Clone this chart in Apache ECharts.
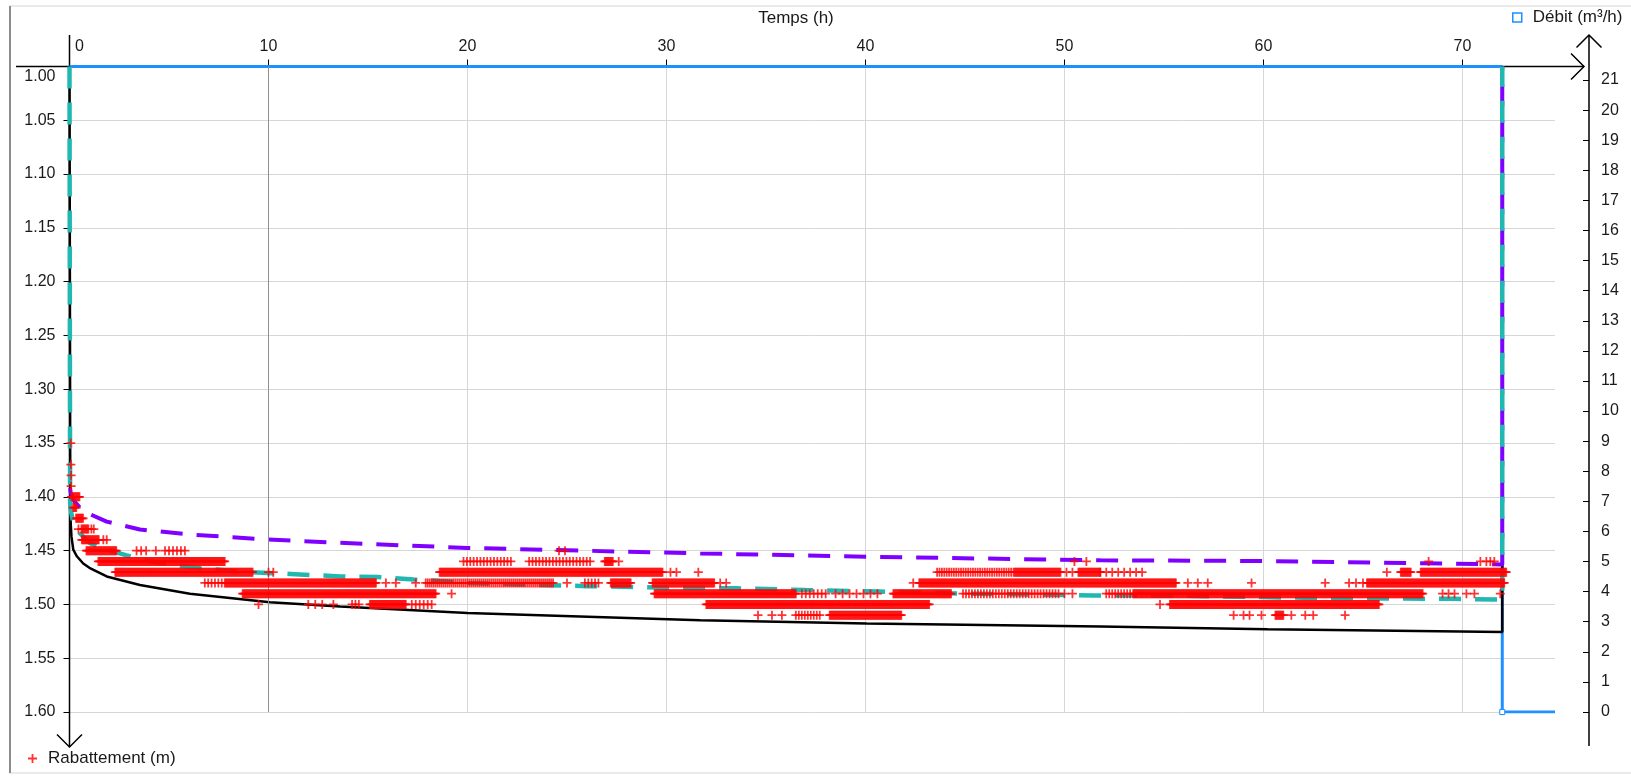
<!DOCTYPE html>
<html>
<head>
<meta charset="utf-8">
<title>Rabattement</title>
<script src="https://cdn.jsdelivr.net/npm/echarts@6/dist/echarts.min.js"></script>
<style>
html, body { margin: 0; padding: 0; background: #fff; }
#showChart { width: 1631px; height: 776px; }
</style>
</head>
<body>
<div id="showChart"></div>
<script>
// ticks
var xTicks = [0, 10, 20, 30, 40, 50, 60, 70];
var yLeftTicks = [1.00, 1.05, 1.10, 1.15, 1.20, 1.25, 1.30, 1.35, 1.40, 1.45, 1.50, 1.55, 1.60];
var yRightTicks = [0, 1, 2, 3, 4, 5, 6, 7, 8, 9, 10, 11, 12, 13, 14, 15, 16, 17, 18, 19, 20, 21];
var darkGridT = 10;

// debit (m3/h)
var debitT = [0, 72, 72, 74.65];
var debitQ = [21.45, 21.45, 0, 0];
var debitMarked = [false, false, true, false];

// black curve
var theoT = [0, 0.04, 0.06, 0.1, 0.19, 0.36, 0.69, 1.0, 1.87, 3.54, 6.05, 10.07, 13.6, 20, 31.7, 40.06, 51.8, 60.2, 72, 72];
var theoS = [1.00, 1.40, 1.4245, 1.437, 1.449, 1.455, 1.462, 1.466, 1.474, 1.482, 1.490, 1.498, 1.502, 1.508, 1.5148, 1.5177, 1.5205, 1.523, 1.5257, 1.00];

// purple dashed
var violetT = [0.03, 0.06, 0.19, 0.69, 1.87, 3.54, 6.05, 9.9, 13.3, 20, 31.7, 40.06, 51.8, 60.2, 72, 72];
var violetS = [1.392, 1.396, 1.403, 1.4134, 1.423, 1.4304, 1.435, 1.4396, 1.4425, 1.4475, 1.4526, 1.4557, 1.459, 1.4597, 1.4628, 1.00];

// cyan dashed
var cyanT = [0, 0.03, 0.06, 0.19, 0.53, 1.03, 1.87, 2.87, 4.38, 6.56, 8.57, 11.1, 13.6, 15.5, 17.3, 20, 22.6, 26, 30, 33.5, 37, 40.7, 45, 51.5, 56, 62, 66, 69.5, 72, 72];
var cyanS = [1.00, 1.405, 1.412, 1.4245, 1.434, 1.443, 1.449, 1.4545, 1.461, 1.4664, 1.4695, 1.4717, 1.474, 1.4746, 1.4768, 1.480, 1.4814, 1.483, 1.4845, 1.485, 1.4867, 1.488, 1.490, 1.4916, 1.492, 1.4938, 1.4944, 1.4948, 1.4955, 1.00];

// measured drawdown: runs [t0, t1, step] of dense marks + single marks, per level
var sampleStep = 0.05;
var rab135Pts = [0.06];
var rab137Pts = [0.07];
var rab138Pts = [0.08];
var rab139Pts = [0.08];
var rab140Runs = [[0.10, 0.53]];
var rab141Runs = [[0.19, 0.38]];
var rab142Runs = [[0.33, 0.72]];
var rab143Runs = [[0.6, 0.95]];
var rab143Pts = [0.45, 1.1, 1.22];
var rab144Runs = [[0.62, 1.5]];
var rab144Pts = [1.7, 1.87];
var rab145Runs = [[0.85, 2.37], [4.8, 5.96, 0.2]];
var rab145Pts = [3.37, 3.6, 3.85, 4.34, 24.6, 24.9];
var rab146Runs = [[1.45, 7.8], [19.8, 22.3, 0.17], [23.1, 26.3, 0.17], [26.9, 27.3]];
var rab146Pts = [27.6, 50.5, 51.1, 68.3, 70.9, 71.2, 71.4, 71.6];
var rab147Runs = [[2.3, 9.2], [18.6, 29.8], [43.6, 47.5, 0.12], [47.5, 49.8], [50.7, 51.8], [51.8, 54.1, 0.3], [66.9, 67.4], [67.9, 72.2]];
var rab147Pts = [10.0, 10.24, 30.2, 30.5, 31.6, 50.1, 50.4, 66.2];
var rab148Runs = [[6.8, 7.8, 0.17], [7.8, 15.4], [17.9, 24.3, 0.1], [25.9, 26.7, 0.17], [27.2, 28.2], [29.3, 32.4], [42.7, 55.6], [65.2, 72.1]];
var rab148Pts = [15.9, 16.4, 17.4, 25.0, 32.7, 33.0, 42.4, 56.2, 56.7, 57.2, 59.4, 63.1, 64.3, 64.65, 65.0];
var rab149Runs = [[8.7, 18.4], [29.4, 36.5], [36.8, 38.0, 0.2], [38.5, 40.6, 0.35], [41.4, 44.3], [44.9, 49.7, 0.15], [52.1, 53.5, 0.15], [53.5, 68.0]];
var rab149Pts = [19.2, 50.0, 50.4, 69.0, 69.3, 69.6, 70.2, 70.6, 71.9];
var rab150Runs = [[14.2, 14.7, 0.17], [15.1, 16.9], [17.2, 18.2, 0.2], [32.0, 43.2], [55.3, 65.8]];
var rab150Pts = [9.5, 12.0, 12.35, 12.7, 13.26, 54.8];
var rab151Runs = [[36.5, 37.7, 0.15], [38.2, 41.8], [60.6, 61.0]];
var rab151Pts = [34.6, 35.3, 35.8, 58.5, 59.0, 59.3, 59.9, 61.4, 62.1, 62.5, 64.1];

var rabRows = [
    [1.35, [], rab135Pts], [1.37, [], rab137Pts], [1.38, [], rab138Pts], [1.39, [], rab139Pts],
    [1.40, rab140Runs, []], [1.41, rab141Runs, []], [1.42, rab142Runs, []],
    [1.43, rab143Runs, rab143Pts], [1.44, rab144Runs, rab144Pts], [1.45, rab145Runs, rab145Pts],
    [1.46, rab146Runs, rab146Pts], [1.47, rab147Runs, rab147Pts], [1.48, rab148Runs, rab148Pts],
    [1.49, rab149Runs, rab149Pts], [1.50, rab150Runs, rab150Pts], [1.51, rab151Runs, rab151Pts]
];

function zip(a, b) {
    var out = [];
    for (var i = 0; i < a.length; i++) out.push([a[i], b[i]]);
    return out;
}

function rabData() {
    var out = [];
    rabRows.forEach(function (row) {
        var lvl = row[0];
        row[1].forEach(function (r) {
            var st = r[2] || sampleStep;
            for (var t = r[0]; t <= r[1] + 1e-9; t += st) out.push([t, lvl]);
        });
        row[2].forEach(function (t) { out.push([t, lvl]); });
    });
    return out;
}

var plusPath = 'path://M4,0H6V4H10V6H6V10H4V6H0V4H4Z';
var txt = '#1a1a1a';
var gridCol = '#d6d6d6';
var font = '"Liberation Sans", Arial, sans-serif';

function showChart() {
    var dom = document.getElementById('showChart');
    var myChart = echarts.init(dom);

    var debitData = debitT.map(function (t, i) {
        return { value: [t, debitQ[i]], symbol: debitMarked[i] ? 'rect' : 'none' };
    });

    var option = {
        animation: false,
        textStyle: { fontFamily: font },
        grid: { left: 69.5, top: 66.5, right: 76, bottom: 64 },
        legend: [{
            data: [{ name: 'Débit (m³/h)', icon: 'rect', itemStyle: { color: '#fff', borderColor: '#1e90ff', borderWidth: 1.5 } }],
            left: 1512, top: 9, padding: 0,
            itemWidth: 9, itemHeight: 9,
            selectedMode: false,
            textStyle: { fontSize: 17, color: txt, fontFamily: font, padding: [0, 0, 0, 6] }
        }, {
            data: [{ name: 'Rabattement (m)', icon: plusPath, itemStyle: { color: '#ff0000' } }],
            left: 28, top: 750, padding: 0,
            itemWidth: 9, itemHeight: 9,
            selectedMode: false,
            textStyle: { fontSize: 17, color: txt, fontFamily: font, padding: [0, 0, 0, 6] }
        }],
        xAxis: {
            type: 'value', position: 'top',
            min: 0, max: 74.65, interval: 10,
            axisLine: { show: false, onZero: false },
            axisTick: { show: true, length: 7, lineStyle: { color: '#000' } },
            axisLabel: {
                showMaxLabel: false, margin: 12, fontSize: 16, color: txt,
                formatter: function (v) { return v === 0 ? '{z|0}' : String(v); },
                rich: { z: { padding: [0, 0, 0, 20], fontSize: 16, color: txt } }
            },
            splitLine: { show: true, showMaxLine: false, lineStyle: { color: gridCol, width: 1 } }
        },
        yAxis: [{
            type: 'value', position: 'left', inverse: true,
            min: 1, max: 1.6, interval: 0.05,
            axisLine: { show: false, onZero: false },
            axisTick: { show: true, length: 6, lineStyle: { color: '#000' } },
            axisLabel: {
                margin: 14, fontSize: 16, color: txt,
                formatter: function (v) { return Math.abs(v - 1) < 1e-6 ? '{t|1.00}' : v.toFixed(2); },
                rich: { t: { padding: [20, 0, 0, 0], fontSize: 16, color: txt } }
            },
            splitLine: { show: true, lineStyle: { color: gridCol, width: 1 } }
        }, {
            type: 'value', position: 'right', offset: 34,
            min: 0, max: 21.45, interval: 1,
            axisLine: { show: false, onZero: false },
            axisTick: { show: true, inside: true, length: 6, customValues: yRightTicks, lineStyle: { color: '#000' } },
            axisLabel: { customValues: yRightTicks, margin: 12, fontSize: 16, color: txt },
            splitLine: { show: false }
        }],
        graphic: [
            { type: 'rect', z: 0, silent: true, shape: { x: 10, y: 6, width: 1640, height: 767 }, style: { fill: 'none', stroke: '#e3e3e3', lineWidth: 1.5 } },
            { type: 'line', z: 0, silent: true, shape: { x1: 10, y1: 6, x2: 10, y2: 773 }, style: { stroke: '#8c8c8c', lineWidth: 2 } },
            { type: 'text', z: 1, silent: true, x: 796, y: 18, style: { text: 'Temps (h)', fill: txt, font: '17px ' + font, align: 'center', verticalAlign: 'middle' } },
            // axis lines with open arrows
            { type: 'line', z: 1, silent: true, shape: { x1: 16, y1: 66.5, x2: 1584, y2: 66.5 }, style: { stroke: '#000', lineWidth: 1.5 } },
            { type: 'polyline', z: 1, silent: true, shape: { points: [[1571, 53.5], [1584, 66.5], [1571, 79.5]] }, style: { stroke: '#000', lineWidth: 1.5, fill: 'none' } },
            { type: 'line', z: 1, silent: true, shape: { x1: 69.5, y1: 35, x2: 69.5, y2: 747 }, style: { stroke: '#000', lineWidth: 1.5 } },
            { type: 'polyline', z: 1, silent: true, shape: { points: [[57, 734.5], [69.5, 747], [82, 734.5]] }, style: { stroke: '#000', lineWidth: 1.5, fill: 'none' } },
            { type: 'line', z: 1, silent: true, shape: { x1: 1589, y1: 35, x2: 1589, y2: 746 }, style: { stroke: '#000', lineWidth: 1.5 } },
            { type: 'polyline', z: 1, silent: true, shape: { points: [[1576.5, 47.5], [1589, 35], [1601.5, 47.5]] }, style: { stroke: '#000', lineWidth: 1.5, fill: 'none' } }
        ],
        series: [{
            name: 'Débit (m³/h)',
            type: 'line', yAxisIndex: 1, z: 2,
            data: debitData,
            symbol: 'rect', symbolSize: 5, showSymbol: true,
            itemStyle: { color: '#fff', borderColor: '#1e90ff', borderWidth: 1 },
            lineStyle: { color: '#1e90ff', width: 3 },
            emphasis: { disabled: true }, silent: true,
            markLine: {
                silent: true, symbol: 'none', label: { show: false },
                lineStyle: { color: '#8f8f8f', width: 1, type: 'solid' },
                emphasis: { disabled: true },
                data: [{ xAxis: darkGridT }]
            }
        }, {
            name: 'theorique',
            type: 'line', z: 3,
            data: zip(theoT, theoS),
            showSymbol: false, symbol: 'none',
            lineStyle: { color: '#000', width: 2.5 },
            emphasis: { disabled: true }, silent: true
        }, {
            name: 'ajustement 1',
            type: 'line', z: 4,
            data: zip(violetT, violetS),
            showSymbol: false, symbol: 'none',
            lineStyle: { color: '#8000ff', width: 4, type: [22, 14] },
            emphasis: { disabled: true }, silent: true
        }, {
            name: 'ajustement 2',
            type: 'line', z: 5,
            data: zip(cyanT, cyanS),
            showSymbol: false, symbol: 'none',
            lineStyle: { color: '#22b8b2', width: 4.5, type: [22, 14] },
            emphasis: { disabled: true }, silent: true
        }, {
            name: 'Rabattement (m)',
            type: 'scatter', z: 6,
            data: rabData(),
            symbol: plusPath, symbolSize: 9,
            itemStyle: { color: '#ff0000' },
            emphasis: { disabled: true }, silent: true
        }]
    };

    if (option && typeof option === 'object') {
        myChart.setOption(option, true);
    }

    window.addEventListener('resize', function () {
        myChart.resize();
    });
}

showChart();
</script>
</body>
</html>
